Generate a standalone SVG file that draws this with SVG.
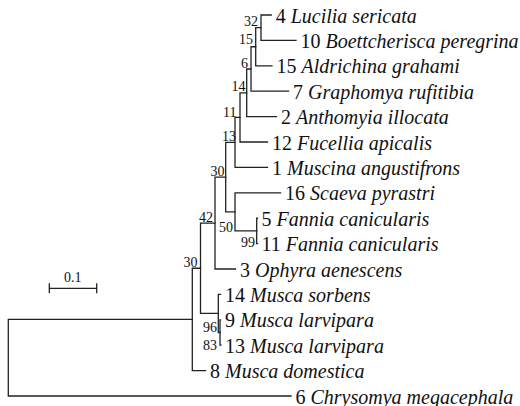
<svg xmlns="http://www.w3.org/2000/svg" width="520" height="406" viewBox="0 0 520 406">
<style>
.br{fill:none;stroke:#222;stroke-width:1.3;stroke-linecap:square}
.tip{font-family:"Liberation Serif","Times New Roman",serif;font-size:20px;fill:#111}
.tip .sp{font-style:italic}
.bs{font-family:"Liberation Serif","Times New Roman",serif;font-size:14px;fill:#111;text-anchor:end}
.sc{font-family:"Liberation Serif","Times New Roman",serif;font-size:14px;fill:#111;text-anchor:middle}
</style>
<rect width="520" height="406" fill="#fff"/>
<g id="connectors">
<path class="br" d="M8.3 319.4V396M8.3 319.4H192.3M8.3 396H291"/>
<path class="br" d="M192.3 268.25V370.6M192.3 268.25H200.5M192.3 370.6H205.5"/>
<path class="br" d="M200.5 223.05V313.45M200.5 223.05H215M200.5 313.45H218.3"/>
<path class="br" d="M218.3 294.4V332.5M218.3 294.4H220.5M218.3 332.5H220"/>
<path class="br" d="M220 319.8V345.2M220 319.8H220.5M220 345.2H221"/>
<path class="br" d="M215 177.1V269M215 177.1H225.7M215 269H235.5"/>
<path class="br" d="M225.7 142.4V211.85M225.7 142.4H235M225.7 211.85H235"/>
<path class="br" d="M235 117.4V167.4M235 117.4H240M235 167.4H267.5"/>
<path class="br" d="M240 92.79V142M240 92.79H246.7M240 142H267.5"/>
<path class="br" d="M246.7 68.98V116.6M246.7 68.98H251M246.7 116.6H276.5"/>
<path class="br" d="M251 46.75V91.2M251 46.75H255.7M251 91.2H288.5"/>
<path class="br" d="M255.7 27.7V65.8M255.7 27.7H261M255.7 65.8H272"/>
<path class="br" d="M261 15V40.4M261 15H271.2M261 40.4H296"/>
<path class="br" d="M235 192.8V230.9M235 192.8H280.5M235 230.9H256.7"/>
<path class="br" d="M256.7 218.2V243.6M256.7 218.2H257.5M256.7 243.6H257.5"/>
</g>
<g id="tip-4"><text class="tip" x="275.7" y="22.5">4 <tspan class="sp">Lucilia sericata</tspan></text></g>
<g id="tip-10"><text class="tip" x="300.5" y="47.9">10 <tspan class="sp">Boettcherisca peregrina</tspan></text></g>
<g id="tip-15"><text class="tip" x="276.5" y="73.3">15 <tspan class="sp">Aldrichina grahami</tspan></text></g>
<g id="tip-7"><text class="tip" x="293" y="98.7">7 <tspan class="sp">Graphomya rufitibia</tspan></text></g>
<g id="tip-2"><text class="tip" x="281" y="124.1">2 <tspan class="sp">Anthomyia illocata</tspan></text></g>
<g id="tip-12"><text class="tip" x="272" y="149.5">12 <tspan class="sp">Fucellia apicalis</tspan></text></g>
<g id="tip-1"><text class="tip" x="272" y="174.9">1 <tspan class="sp">Muscina angustifrons</tspan></text></g>
<g id="tip-16"><text class="tip" x="285" y="200.3">16 <tspan class="sp">Scaeva pyrastri</tspan></text></g>
<g id="tip-5"><text class="tip" x="261.5" y="225.7">5 <tspan class="sp">Fannia canicularis</tspan></text></g>
<g id="tip-11"><text class="tip" x="261.5" y="251.1">11 <tspan class="sp">Fannia canicularis</tspan></text></g>
<g id="tip-3"><text class="tip" x="240" y="276.5">3 <tspan class="sp">Ophyra aenescens</tspan></text></g>
<g id="tip-14"><text class="tip" x="225" y="301.9">14 <tspan class="sp">Musca sorbens</tspan></text></g>
<g id="tip-9"><text class="tip" x="225" y="327.3">9 <tspan class="sp">Musca larvipara</tspan></text></g>
<g id="tip-13"><text class="tip" x="225" y="352.7">13 <tspan class="sp">Musca larvipara</tspan></text></g>
<g id="tip-8"><text class="tip" x="210" y="378.1">8 <tspan class="sp">Musca domestica</tspan></text></g>
<g id="tip-6"><text class="tip" x="295.5" y="403.5">6 <tspan class="sp">Chrysomya megacephala</tspan></text></g>
<g id="node-32"><text class="bs" x="258" y="25.5">32</text></g>
<g id="node-15"><text class="bs" x="253" y="43.5">15</text></g>
<g id="node-6"><text class="bs" x="248" y="68">6</text></g>
<g id="node-14"><text class="bs" x="245.5" y="91">14</text></g>
<g id="node-11"><text class="bs" x="236.5" y="116.5">11</text></g>
<g id="node-13"><text class="bs" x="236" y="141">13</text></g>
<g id="node-30a"><text class="bs" x="224.5" y="176">30</text></g>
<g id="node-50"><text class="bs" x="233" y="231.5">50</text></g>
<g id="node-99"><text class="bs" x="255" y="246.5">99</text></g>
<g id="node-42"><text class="bs" x="213" y="221.5">42</text></g>
<g id="node-30b"><text class="bs" x="197.5" y="266.5">30</text></g>
<g id="node-96"><text class="bs" x="217" y="331.5">96</text></g>
<g id="node-83"><text class="bs" x="217" y="349.5">83</text></g>
<g id="scale">
<path class="br" d="M49.3 288.3H96.7M49.3 284V292.7M96.7 284V292.7"/>
<text class="sc" x="72.7" y="282">0.1</text>
</g>
</svg>
